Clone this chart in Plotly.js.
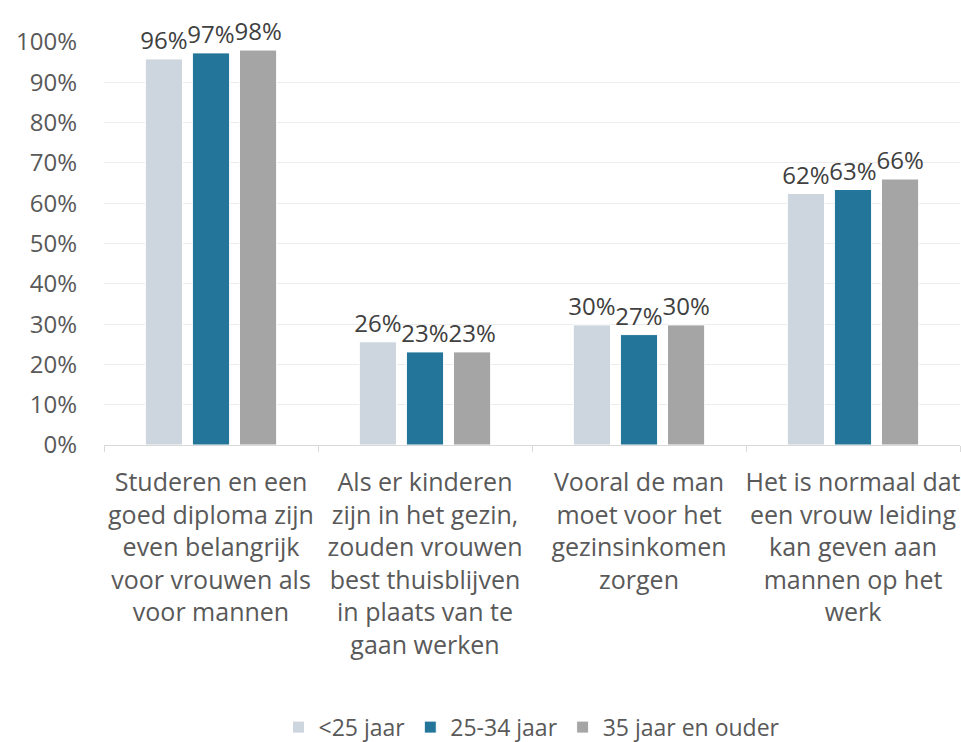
<!DOCTYPE html>
<html>
<head>
<meta charset="utf-8">
<script src="https://cdn.plot.ly/plotly-3.0.1.min.js"></script>
<style>
  body { margin: 0; background: #fff; }
  #chart { width: 961px; height: 742px; }
</style>
</head>
<body>
<div id="chart"></div>
<script>
const categories = [
  "Studeren en een<br>goed diploma zijn<br>even belangrijk<br>voor vrouwen als<br>voor mannen",
  "Als er kinderen<br>zijn in het gezin,<br>zouden vrouwen<br>best thuisblijven<br>in plaats van te<br>gaan werken",
  "Vooral de man<br>moet voor het<br>gezinsinkomen<br>zorgen",
  "Het is normaal dat<br>een vrouw leiding<br>kan geven aan<br>mannen op het<br>werk"
];
const seriesNames = ["<25 jaar", "25-34 jaar", "35 jaar en ouder"];
const under25 = [0.958, 0.256, 0.298, 0.624];
const age25to34 = [0.973, 0.231, 0.274, 0.634];
const over35 = [0.980, 0.231, 0.298, 0.660];
const colors = ["#CDD5DE", "#23769A", "#A5A5A5"];

const font = "'Open Sans', sans-serif";

const traces = [under25, age25to34, over35].map((vals, i) => ({
  type: "bar",
  name: seriesNames[i],
  x: categories,
  y: vals,
  marker: { color: colors[i], line: { color: "#ffffff", width: 1 } },
  text: vals.map(v => Math.round(v * 100) + "%"),
  textposition: "outside",
  constraintext: "none",
  cliponaxis: false,
  textfont: { family: font, size: 24, color: "#404040" },
  hoverinfo: "skip"
}));

const layout = {
  width: 961,
  height: 742,
  margin: { l: 104, r: 1, t: 42, b: 297 },
  paper_bgcolor: "#fff",
  plot_bgcolor: "#fff",
  barmode: "group",
  bargap: 0.34,
  bargroupgap: 0.21,
  font: { family: font, size: 22, color: "#595959" },
  xaxis: {
    showline: true,
    linecolor: "#d9d9d9",
    linewidth: 1,
    ticks: "outside",
    tickcolor: "#d9d9d9",
    ticklen: 6,
    tickson: "boundaries",
    tickangle: 0,
    tickfont: { family: font, size: 25, color: "#595959" },
    ticklabelstandoff: 15,
    showgrid: false,
    automargin: false
  },
  yaxis: {
    range: [0, 1],
    dtick: 0.1,
    tickformat: ".0%",
    showgrid: true,
    gridcolor: "#ececec",
    zeroline: false,
    showline: false,
    ticks: "",
    ticklabelstandoff: 26,
    tickfont: { family: font, size: 24, color: "#595959" },
    automargin: false
  },
  legend: {
    orientation: "h",
    x: 0.5,
    xanchor: "center",
    yref: "container",
    y: 0.02,
    yanchor: "middle",
    font: { family: font, size: 23, color: "#595959" },
    itemwidth: 20,
    traceorder: "normal"
  },
  showlegend: true
};

Plotly.newPlot("chart", traces, layout, { displayModeBar: false, staticPlot: true });
</script>
</body>
</html>
